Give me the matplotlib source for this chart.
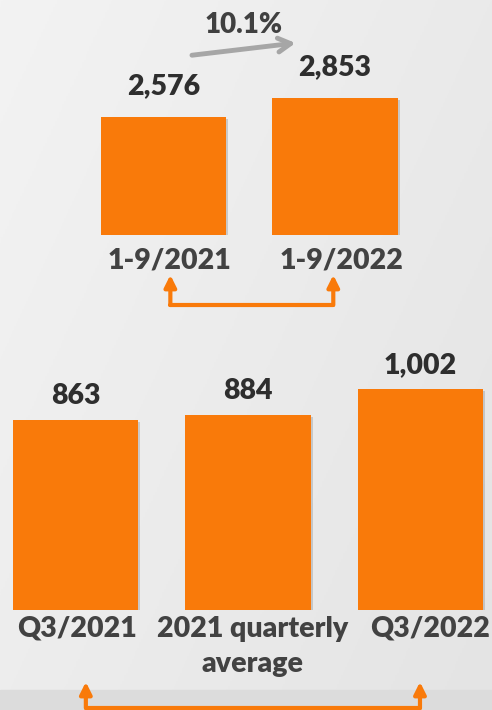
import numpy as np
import matplotlib
matplotlib.use('Agg')
import matplotlib.pyplot as plt
import matplotlib.transforms as mtransforms
import matplotlib.patheffects as pe
from matplotlib.patches import Rectangle

plt.rcParams['font.family'] = ['Lato', 'DejaVu Sans']
plt.rcParams['font.weight'] = 'heavy'

# data
top_labels = ['1-9/2021', '1-9/2022']
top_values = [2576, 2853]
growth_text = '10.1%'

bottom_labels = ['Q3/2021', '2021 quarterly\naverage', 'Q3/2022']
bottom_values = [863, 884, 1002]

orange = '#F97A0A'
value_color = '#2e2e2e'
label_color = '#424242'
bg = '#efefef'

W, H = 492, 710
fig = plt.figure(figsize=(W / 100, H / 100), dpi=100, facecolor=bg)

# soft background gradient
bg_ax = fig.add_axes([0, 0, 1, 1], zorder=-10)
grad = np.linspace(0, 1, 256)
gx, gy = np.meshgrid(grad, grad)
bg_ax.imshow(0.6 * gx + 0.4 * gy, cmap=matplotlib.colors.LinearSegmentedColormap.from_list('g', ['#f3f3f3', '#e4e4e4']),
             extent=[0, 1, 0, 1], aspect='auto', origin='upper')
bg_ax.axis('off')
fig.patches.append(Rectangle((0, 0), 1, 20 / H, transform=fig.transFigure, color='#dcdcdc', zorder=-5))

shadow = [pe.SimplePatchShadow(offset=(1.5, -1.5), shadow_rgbFace='#888888', alpha=0.35), pe.Normal()]


def connector(ax, x0, x1, y_base, y_tip):
    trans = mtransforms.blended_transform_factory(ax.transData, ax.transAxes)
    ax.plot([x0, x1], [y_base, y_base], color=orange, lw=3, transform=trans, clip_on=False, solid_capstyle='round')
    for x in (x0, x1):
        ax.annotate('', xy=(x, y_tip), xytext=(x, y_base), xycoords=trans, textcoords=trans,
                    arrowprops=dict(arrowstyle='-|>,head_length=0.7,head_width=0.35', color=orange, lw=3,
                                    shrinkA=0, shrinkB=0))


def shift_ticklabels(ax, offsets):
    for lab, dx in zip(ax.get_xticklabels(), offsets):
        lab.set_transform(lab.get_transform() + mtransforms.ScaledTranslation(dx / 100, 0, fig.dpi_scale_trans))


# ---- top chart: 1-9 months ----
ax1 = fig.add_axes([0, (H - 235) / H, 1, 235 / H])
ax1.set_facecolor('none')
x1 = np.arange(len(top_values))
bars = ax1.bar(x1, top_values, width=0.73, color=orange, zorder=3)
for b in bars:
    b.set_path_effects(shadow)
ax1.set_xlim(-163.5 / 171.5, (W - 163.5) / 171.5)
ax1.set_ylim(856, 856 + 235 / 0.0686)
for x, v in zip(x1, top_values):
    ax1.annotate(f'{v:,}', xy=(x, v), xytext=(0, 13), textcoords='offset points',
                 ha='center', va='bottom', fontsize=20.5, color=value_color)
ax1.set_xticks(x1, top_labels, fontsize=20.5, color=label_color)
ax1.tick_params(length=0, pad=9)
shift_ticklabels(ax1, [6, 7])
for s in ax1.spines.values():
    s.set_visible(False)
ax1.set_yticks([])

trans1 = mtransforms.blended_transform_factory(ax1.transData, ax1.transAxes)
ax1.annotate('', xy=(0.77, 0.817), xytext=(0.166, 0.765), xycoords=trans1, textcoords=trans1,
             arrowprops=dict(arrowstyle='->,head_length=0.9,head_width=0.5', color='#a6a6a6', lw=3.5,
                             shrinkA=0, shrinkB=0))
ax1.text(0.469, 0.895, growth_text, transform=trans1, ha='center', va='center', fontsize=20, color='#404040')
connector(ax1, x1[0] + 0.04, x1[1] - 0.01, -0.298, -0.17)

# ---- bottom chart: quarters ----
ax2 = fig.add_axes([0, (H - 610) / H, 1, 280 / H])
ax2.set_facecolor('none')
x2 = np.arange(len(bottom_values))
bars = ax2.bar(x2, bottom_values, width=0.725, color=orange, zorder=3)
for b in bars:
    b.set_path_effects(shadow)
ax2.set_xlim(-75.5 / 172.5, (W - 75.5) / 172.5)
ax2.set_ylim(0, 280 / 0.2202)
for x, v in zip(x2, bottom_values):
    ax2.annotate(f'{v:,}', xy=(x, v), xytext=(0, 8), textcoords='offset points',
                 ha='center', va='bottom', fontsize=20.5, color=value_color)
ax2.set_xticks(x2, bottom_labels, fontsize=20.5, color=label_color, linespacing=1.45)
ax2.tick_params(length=0, pad=4)
shift_ticklabels(ax2, [2, 5, 10])
for s in ax2.spines.values():
    s.set_visible(False)
ax2.set_yticks([])
connector(ax2, x2[0] + 0.06, x2[2] - 0.003, -0.35, -0.257)

fig.savefig('out.png', dpi=100, facecolor=bg)
